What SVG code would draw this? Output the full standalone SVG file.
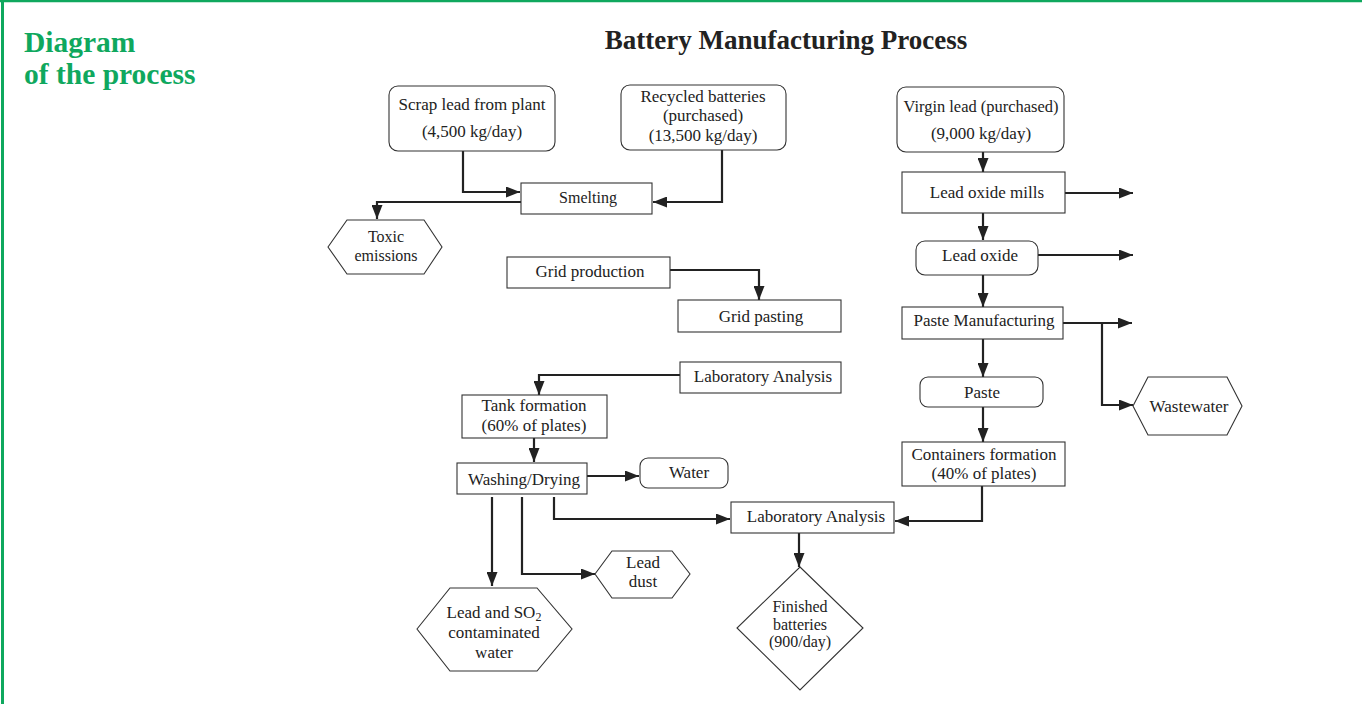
<svg xmlns="http://www.w3.org/2000/svg" width="1362" height="704" viewBox="0 0 1362 704">
<style>
.box{fill:#fff;stroke:#333;stroke-width:1.1}
.t{font-family:"Liberation Serif","Times New Roman",serif;font-size:17px;fill:#222;text-anchor:middle}
.s{font-size:16px}
.c{fill:none;stroke:#222;stroke-width:2.2}
.h{font-family:"Liberation Serif","Times New Roman",serif;font-weight:bold;fill:#0fa85e}
</style>
<defs>
<marker id="ah" viewBox="0 0 14 11" refX="14" refY="5.5" markerWidth="14" markerHeight="11" markerUnits="userSpaceOnUse" orient="auto">
<path d="M0,0 L14,5.5 L0,11 z" fill="#222"/>
</marker>
</defs>
<rect x="0" y="0" width="1362" height="704" fill="#fff"/>
<g id="frame">
<line x1="0" y1="1" x2="1362" y2="1" stroke="#0fa85e" stroke-width="2.5"/>
<line x1="2.5" y1="0" x2="2.5" y2="704" stroke="#0fa85e" stroke-width="3"/>
</g>
<g id="heading">
<text class="h" x="24" y="52" font-size="29.5">Diagram</text>
<text class="h" x="24" y="84" font-size="29.5">of the process</text>
<text x="786" y="49" font-family="Liberation Serif,'Times New Roman',serif" font-weight="bold" font-size="27" fill="#222" text-anchor="middle">Battery Manufacturing Process</text>
</g>
<g id="connectors">
<polyline class="c" points="463,151 463,192 520,192" marker-end="url(#ah)"/>
<polyline class="c" points="722,150 722,202 653,202" marker-end="url(#ah)"/>
<polyline class="c" points="521,202 377,202 377,219" marker-end="url(#ah)"/>
<polyline class="c" points="670,270 759,270 759,300" marker-end="url(#ah)"/>
<polyline class="c" points="680,375 539,375 539,395" marker-end="url(#ah)"/>
<polyline class="c" points="534,438 534,462" marker-end="url(#ah)"/>
<polyline class="c" points="587,476 639,476" marker-end="url(#ah)"/>
<polyline class="c" points="554,497 554,519 730,519" marker-end="url(#ah)"/>
<polyline class="c" points="522,497 522,574 595,574" marker-end="url(#ah)"/>
<polyline class="c" points="492,497 492,586" marker-end="url(#ah)"/>
<polyline class="c" points="982,486 982,521 895,521" marker-end="url(#ah)"/>
<polyline class="c" points="799,533 799,567" marker-end="url(#ah)"/>
<polyline class="c" points="983,152 983,172" marker-end="url(#ah)"/>
<polyline class="c" points="1065,193 1133,193" marker-end="url(#ah)"/>
<polyline class="c" points="983,213 983,240" marker-end="url(#ah)"/>
<polyline class="c" points="1038,255 1133,255" marker-end="url(#ah)"/>
<polyline class="c" points="983,275 983,307" marker-end="url(#ah)"/>
<polyline class="c" points="1063,323 1132,323" marker-end="url(#ah)"/>
<polyline class="c" points="1102,323 1102,405 1133,405" marker-end="url(#ah)"/>
<polyline class="c" points="983,339 983,377" marker-end="url(#ah)"/>
<polyline class="c" points="983,407 983,442" marker-end="url(#ah)"/>
</g>
<g id="scrap">
<rect class="box" x="389" y="86" width="166" height="65" rx="9"/>
<text class="t" x="472" y="110">Scrap lead from plant</text>
<text class="t" x="472" y="137">(4,500 kg/day)</text>
</g>
<g id="recycled">
<rect class="box" x="621" y="85" width="165" height="65" rx="9"/>
<text class="t" x="703" y="102">Recycled batteries</text>
<text class="t" x="703" y="121">(purchased)</text>
<text class="t" x="703" y="141">(13,500 kg/day)</text>
</g>
<g id="smelting">
<rect class="box" x="521" y="183" width="131" height="31"/>
<text class="t s" x="588" y="203">Smelting</text>
</g>
<g id="toxic">
<polygon class="box" points="328,247 347,220 424,220 442,247 424,274 347,274"/>
<text class="t s" x="386" y="242">Toxic</text>
<text class="t s" x="386" y="261">emissions</text>
</g>
<g id="gridprod">
<rect class="box" x="507" y="257" width="163" height="31"/>
<text class="t" x="590" y="277">Grid production</text>
</g>
<g id="gridpast">
<rect class="box" x="678" y="300" width="163" height="32"/>
<text class="t" x="761" y="322">Grid pasting</text>
</g>
<g id="lab1">
<rect class="box" x="680" y="362" width="161" height="31"/>
<text class="t" x="763" y="382">Laboratory Analysis</text>
</g>
<g id="tank">
<rect class="box" x="462" y="395" width="145" height="43"/>
<text class="t" x="534" y="411">Tank formation</text>
<text class="t" x="534" y="431">(60% of plates)</text>
</g>
<g id="washing">
<rect class="box" x="457" y="463" width="130" height="31"/>
<text class="t" x="524" y="485">Washing/Drying</text>
</g>
<g id="water">
<rect class="box" x="640" y="458" width="88" height="30" rx="8"/>
<text class="t" x="689" y="478">Water</text>
</g>
<g id="lab2">
<rect class="box" x="731" y="502" width="163" height="31"/>
<text class="t" x="816" y="522">Laboratory Analysis</text>
</g>
<g id="finished">
<polygon class="box" points="800,567 863,628 800,690 737,628"/>
<text class="t s" x="800" y="612">Finished</text>
<text class="t s" x="800" y="630">batteries</text>
<text class="t s" x="800" y="647">(900/day)</text>
</g>
<g id="leadso2">
<polygon class="box" points="417,629 450,588 537,588 572,629 537,671 450,671"/>
<text class="t" x="494" y="618">Lead and SO<tspan font-size="12" dy="3">2</tspan></text>
<text class="t" x="494" y="638">contaminated</text>
<text class="t" x="494" y="658">water</text>
</g>
<g id="leaddust">
<polygon class="box" points="595,574 612,551 672,551 690,574 672,598 612,598"/>
<text class="t" x="643" y="568">Lead</text>
<text class="t" x="643" y="587">dust</text>
</g>
<g id="virgin">
<rect class="box" x="897" y="87" width="167" height="65" rx="9"/>
<text class="t" x="981" y="112" textLength="155" lengthAdjust="spacingAndGlyphs">Virgin lead (purchased)</text>
<text class="t" x="981" y="139">(9,000 kg/day)</text>
</g>
<g id="mills">
<rect class="box" x="902" y="172" width="163" height="41"/>
<text class="t" x="987" y="198">Lead oxide mills</text>
</g>
<g id="oxide">
<rect class="box" x="916" y="241" width="122" height="34" rx="9"/>
<text class="t" x="980" y="261">Lead oxide</text>
</g>
<g id="pastemfg">
<rect class="box" x="902" y="307" width="161" height="32"/>
<text class="t" x="984" y="326">Paste Manufacturing</text>
</g>
<g id="wastewater">
<polygon class="box" points="1133,406 1148,377 1227,377 1242,406 1227,435 1148,435"/>
<text class="t" x="1189" y="412">Wastewater</text>
</g>
<g id="paste">
<rect class="box" x="920" y="377" width="123" height="30" rx="8"/>
<text class="t" x="982" y="398">Paste</text>
</g>
<g id="containers">
<rect class="box" x="902" y="442" width="163" height="44"/>
<text class="t" x="984" y="460">Containers formation</text>
<text class="t" x="984" y="479">(40% of plates)</text>
</g>
</svg>
